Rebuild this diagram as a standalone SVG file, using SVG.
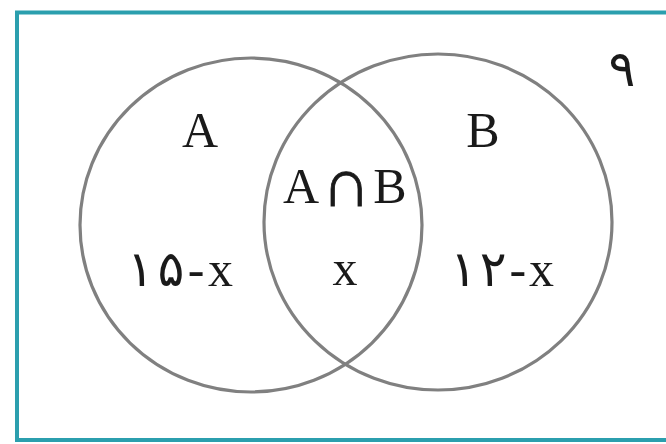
<svg xmlns="http://www.w3.org/2000/svg" width="666" height="444" viewBox="0 0 666 444">
<style>
.frame{fill:none;stroke:#2b9fae;stroke-width:4}
.set{fill:none;stroke:#808080;stroke-width:3.2}
.lbl{font-family:"Liberation Serif","DejaVu Serif",serif;font-size:50px;fill:#1a1a1a}
.num{font-family:"Liberation Serif","DejaVu Sans",serif;font-size:50px;fill:#1a1a1a}
</style>
<rect width="666" height="444" fill="#ffffff"/>
<rect class="frame" x="17" y="12.5" width="700" height="427.5"/>
<g id="setA">
<ellipse class="set" cx="251" cy="225" rx="171" ry="167"/>
<text class="lbl" x="200" y="147" text-anchor="middle">A</text>
<text class="num" x="127" y="286" textLength="106" lengthAdjust="spacing">۱۵-x</text>
</g>
<g id="setB">
<ellipse class="set" cx="438" cy="222" rx="174" ry="168"/>
<text class="lbl" x="483" y="147" text-anchor="middle">B</text>
<text class="num" x="450" y="286" textLength="104" lengthAdjust="spacing">۱۲-x</text>
</g>
<g id="intersection">
<text class="lbl" text-anchor="middle"><tspan x="301" y="203">A</tspan><tspan x="346" y="206" font-size="68" stroke="#1a1a1a" stroke-width="0.8">∩</tspan><tspan x="390" y="203">B</tspan></text>
<text class="lbl" x="345" y="285" text-anchor="middle">x</text>
</g>
<g id="universe">
<text class="num" x="622" y="86" text-anchor="middle" font-size="30">۹</text>
</g>
</svg>
